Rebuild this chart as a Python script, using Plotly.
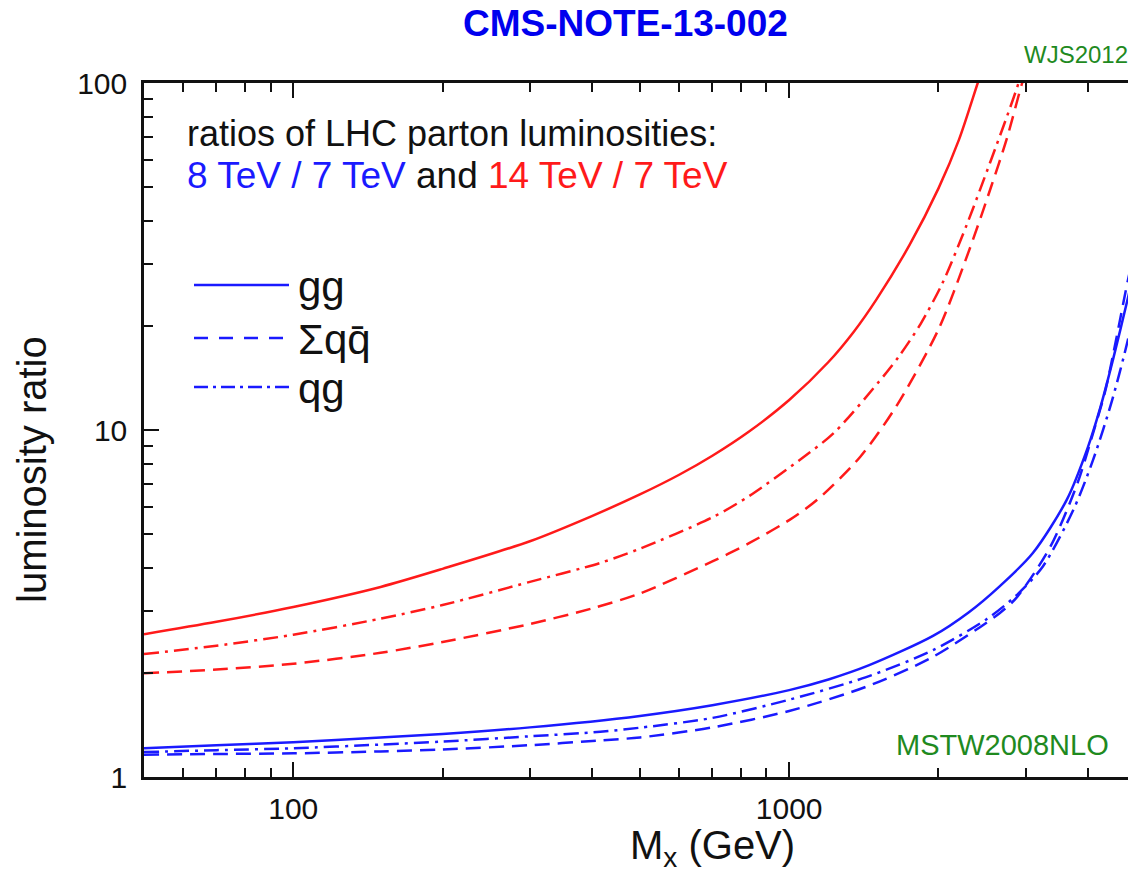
import math
import plotly.graph_objects as go

# ---- data (M_X in GeV, luminosity ratio) ----
# 14 TeV / 7 TeV
m_gg_14 = [50, 70, 100, 150, 200, 300, 400, 500, 600, 700, 830, 1000, 1200, 1350, 1500, 1750, 2000, 2200, 2400, 2450]
r_gg_14 = [2.58, 2.80, 3.09, 3.53, 3.98, 4.78, 5.65, 6.52, 7.43, 8.43, 9.9, 12.2, 15.7, 19.2, 23.8, 34.2, 49.7, 68.7, 100.0, 109.0]

m_qq_14 = [50, 70, 100, 150, 200, 300, 400, 500, 700, 830, 1000, 1140, 1390, 1650, 2000, 2300, 2550, 2750, 2950, 3020]
r_qq_14 = [1.99, 2.04, 2.12, 2.28, 2.45, 2.76, 3.06, 3.38, 4.18, 4.72, 5.5, 6.3, 8.36, 11.8, 19.5, 32.6, 49.9, 69.5, 100.0, 110.0]

m_qg_14 = [50, 70, 100, 150, 200, 300, 416, 500, 700, 830, 1050, 1230, 1550, 1670, 1840, 2040, 2280, 2540, 2790, 2900, 2950]
r_qg_14 = [2.26, 2.39, 2.57, 2.86, 3.13, 3.65, 4.14, 4.55, 5.6, 6.45, 8.2, 9.8, 14.3, 16.4, 20.2, 26.6, 39.0, 58.8, 85.0, 100.0, 110.0]

# 8 TeV / 7 TeV
m_gg_8 = [50, 70, 100, 150, 200, 300, 500, 700, 1000, 1200, 1450, 1950, 2300, 2660, 3100, 3630, 4000, 4240, 4500, 4820, 5000]
r_gg_8 = [1.21, 1.235, 1.26, 1.30, 1.33, 1.39, 1.50, 1.61, 1.78, 1.91, 2.10, 2.55, 2.98, 3.55, 4.42, 6.3, 8.9, 11.6, 16.0, 24.0, 30.0]

m_qq_8 = [50, 70, 100, 150, 200, 300, 416, 500, 700, 1000, 1430, 1950, 2660, 2880, 3360, 3810, 4100, 4330, 4500, 4820, 5000]
r_qq_8 = [1.16, 1.165, 1.17, 1.185, 1.20, 1.235, 1.275, 1.30, 1.39, 1.55, 1.82, 2.22, 2.97, 3.30, 4.6, 7.0, 9.8, 12.8, 16.5, 27.0, 34.0]

m_qg_8 = [50, 70, 100, 150, 200, 300, 416, 500, 700, 1000, 1430, 1950, 2500, 2880, 3250, 3740, 4100, 4480, 4820, 5000]
r_qg_8 = [1.18, 1.195, 1.21, 1.24, 1.265, 1.31, 1.35, 1.387, 1.48, 1.67, 1.94, 2.32, 2.85, 3.35, 4.05, 5.88, 8.2, 12.2, 18.2, 23.5]

x_major = [100, 1000]
x_major_text = ["100", "1000"]
x_minor = [60, 70, 80, 90, 200, 300, 400, 500, 600, 700, 800, 900, 2000, 3000, 4000]
y_major = [1, 10, 100]
y_major_text = ["1", "10", "100"]
y_minor = [2, 3, 4, 5, 6, 7, 8, 9, 20, 30, 40, 50, 60, 70, 80, 90]

legend_labels = ["gg", "Σqq̄", "qg"]

BLUE = "#1a1aff"
RED = "#ff1a1a"
GREEN = "#1f8a1f"
FONT = "Liberation Sans, Arial, sans-serif"
DASH = "15px,8px"
DASHDOT = "15px,6px,3px,6px"

W, H = 1128, 874
L, R, T, B = 144, 0, 83, 97
x_lo, x_hi = math.log10(50), math.log10(4822)


def px(x):
    return (x - L) / (W - L - R)


def py(y):
    return (H - B - y) / (H - T - B)


fig = go.Figure()
series = [
    (m_gg_14, r_gg_14, RED, "solid", "gg 14/7"),
    (m_qg_14, r_qg_14, RED, DASHDOT, "qg 14/7"),
    (m_qq_14, r_qq_14, RED, DASH, "qq 14/7"),
    (m_gg_8, r_gg_8, BLUE, "solid", "gg 8/7"),
    (m_qg_8, r_qg_8, BLUE, DASHDOT, "qg 8/7"),
    (m_qq_8, r_qq_8, BLUE, DASH, "qq 8/7"),
]
for m, r, c, d, name in series:
    fig.add_trace(go.Scatter(
        x=m, y=r, mode="lines", name=name, showlegend=False,
        line=dict(color=c, width=2.5, dash=d, shape="spline", smoothing=0.8),
    ))

axis_common = dict(
    type="log", showgrid=False, zeroline=False,
    showline=True, linecolor="#111", linewidth=2.5,
    ticks="inside", ticklen=15, tickwidth=2, tickcolor="#111",
    tickfont=dict(family=FONT, size=30, color="#111"),
)
fig.update_layout(
    width=W, height=H,
    margin=dict(l=L, r=R, t=T, b=B, pad=0),
    paper_bgcolor="white", plot_bgcolor="white",
    xaxis=dict(
        axis_common, range=[x_lo, x_hi], mirror="ticks",
        tickmode="array", tickvals=x_major, ticktext=x_major_text,
        minor=dict(ticks="inside", ticklen=9, tickwidth=2, tickcolor="#111", tickvals=x_minor),
        ticklabelstandoff=3,
    ),
    yaxis=dict(
        axis_common, range=[0, 2],
        tickmode="array", tickvals=y_major, ticktext=y_major_text,
        minor=dict(ticks="inside", ticklen=9, tickwidth=2, tickcolor="#111", tickvals=y_minor),
        ticklabelstandoff=8,
    ),
    yaxis2=dict(
        type="log", range=[0, 2], overlaying="y", side="right", anchor="x",
        showline=False, showgrid=False, zeroline=False, showticklabels=False,
        ticks="inside", ticklen=6, tickwidth=2, tickcolor="#111",
        tickmode="array", tickvals=y_major,
        minor=dict(ticks="inside", ticklen=5, tickwidth=2, tickcolor="#111", tickvals=y_minor),
    ),
    showlegend=False,
)

ann = []
ann.append(dict(text="<b>CMS-NOTE-13-002</b>", x=px(625), y=py(24), xanchor="center", yanchor="middle",
                font=dict(family="Liberation Sans Narrow, " + FONT, size=37, color="#0000ee")))
ann.append(dict(text="WJS2012", x=px(1022), y=py(55), xanchor="left", yanchor="middle",
                font=dict(family=FONT, size=24, color=GREEN)))
ann.append(dict(text="MSTW2008NLO", x=px(894), y=py(745), xanchor="left", yanchor="middle",
                font=dict(family=FONT, size=29, color=GREEN)))
ann.append(dict(text="ratios of LHC parton luminosities:", x=px(185), y=py(133), xanchor="left", yanchor="middle",
                font=dict(family=FONT, size=36, color="#111")))
ann.append(dict(text="<span style='color:%s'>8 TeV / 7 TeV</span> and <span style='color:%s'>14 TeV / 7 TeV</span>" % (BLUE, RED),
                x=px(185), y=py(175), xanchor="left", yanchor="middle",
                font=dict(family=FONT, size=37, color="#111")))
ann.append(dict(text="M<sub>x</sub> (GeV)", x=px(712), y=py(848), xanchor="center", yanchor="middle",
                font=dict(family=FONT, size=40, color="#111")))
ann.append(dict(text="luminosity ratio", x=px(32), y=py(470), xanchor="center", yanchor="middle", textangle=-90,
                font=dict(family=FONT, size=40, color="#111")))

legend_y = [285, 338, 387]
legend_dash = ["solid", "14px,11px", "14px,5px,3px,5px"]
shapes = []
for lab, yy, dd in zip(legend_labels, legend_y, legend_dash):
    shapes.append(dict(type="line", xref="paper", yref="paper", x0=px(194), x1=px(289), y0=py(yy), y1=py(yy),
                       line=dict(color=BLUE, width=2.5, dash=dd)))
    ann.append(dict(text=lab, x=px(296), y=py(yy + 1), xanchor="left", yanchor="middle",
                    font=dict(family=FONT, size=42, color="#111")))

for a in ann:
    a.update(xref="paper", yref="paper", showarrow=False)
fig.update_layout(annotations=ann, shapes=shapes)

fig.write_html("out.html")
